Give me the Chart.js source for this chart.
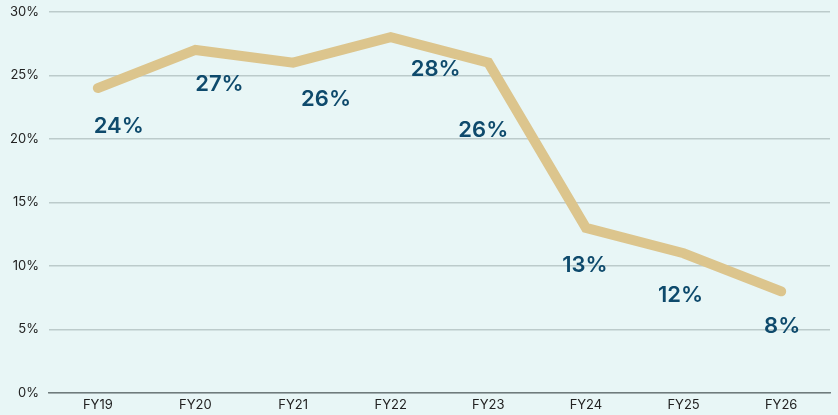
<!DOCTYPE html>
<html>
<head>
<meta charset="utf-8">
<script src="https://cdn.jsdelivr.net/npm/chart.js@4/dist/chart.umd.min.js"></script>
<style>
  html, body { margin: 0; padding: 0; background: #e8f6f6; overflow: hidden; }
  #wrap { width: 838px; height: 421px; position: relative; margin-top: -6px; }
</style>
</head>
<body>
<div id="wrap"><canvas id="chart"></canvas></div>
<script>
const years = ["FY19", "FY20", "FY21", "FY22", "FY23", "FY24", "FY25", "FY26"];
const rates = [24, 27, 26, 28, 26, 13, 11, 8];
const rateLabels = ["24%", "27%", "26%", "28%", "26%", "13%", "12%", "8%"];

// label placement relative to each point (px)
const labelShift = [[21, 38], [24, 34], [33, 37], [45, 32], [-5, 68], [-1, 38], [-3, 42], [1, 35]];

const pointLabels = {
  id: "pointLabels",
  afterDatasetsDraw(chart) {
    const ctx = chart.ctx;
    const meta = chart.getDatasetMeta(0);
    ctx.save();
    ctx.font = "600 22px Inter";
    ctx.fillStyle = "#0e4a6c";
    ctx.textAlign = "center";
    ctx.textBaseline = "middle";
    meta.data.forEach((pt, i) => {
      ctx.fillText(rateLabels[i], pt.x + labelShift[i][0], pt.y + labelShift[i][1]);
    });
    ctx.restore();
  }
};

new Chart(document.getElementById("chart"), {
  type: "line",
  data: {
    labels: years,
    datasets: [{
      data: rates,
      borderColor: "#dcc58d",
      borderWidth: 10,
      borderCapStyle: "round",
      borderJoinStyle: "miter",
      pointRadius: 0,
      tension: 0
    }]
  },
  options: {
    responsive: true,
    maintainAspectRatio: false,
    animation: false,
    layout: { padding: { top: 0, right: 8, bottom: 0, left: 0 } },
    plugins: { legend: { display: false }, tooltip: { enabled: false } },
    scales: {
      x: {
        offset: true,
        afterFit: s => { s.height = 22; },
        grid: { display: false, drawTicks: false },
        border: { display: true, color: "#6f7b7c", width: 1.5 },
        ticks: { color: "#222", font: { family: "Inter", size: 13 }, padding: 4 }
      },
      y: {
        min: 0,
        max: 30,
        grid: { color: "#bccbcb", lineWidth: 1.5, drawTicks: false },
        border: { display: false },
        ticks: {
          stepSize: 5,
          color: "#222",
          padding: 10,
          font: { family: "Inter", size: 13 },
          callback: v => v + "%"
        }
      }
    }
  },
  plugins: [pointLabels]
});
</script>
</body>
</html>
